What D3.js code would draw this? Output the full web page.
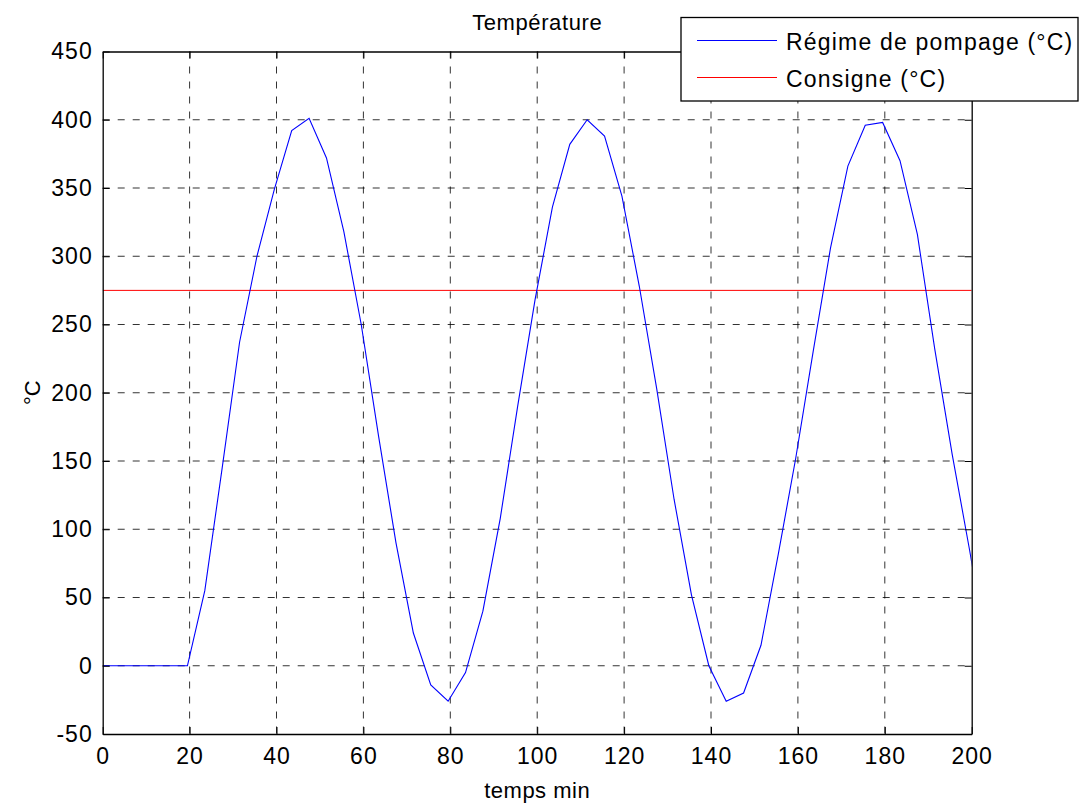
<!DOCTYPE html>
<html>
<head>
<meta charset="utf-8">
<script src="https://cdn.jsdelivr.net/npm/d3@7"></script>
<style>
  body { margin: 0; background: #fff; }
  text { font-family: "Liberation Sans", Arial, sans-serif; fill: #000; }
</style>
</head>
<body>
<svg width="1080" height="805"></svg>
<script>
// temps (min) et température
var temps = [0, 3.5, 7.5, 11.5, 15.5, 19.5, 23.5, 27.5, 31.5, 35.5, 39.5, 43.5, 47.5, 51.5, 55.5,
  59.5, 63.5, 67.5, 71.5, 75.5, 79.5, 83.5, 87.5, 91.5, 95.5, 99.5, 103.5, 107.5, 111.5,
  115.5, 119.5, 123.5, 127.5, 131.5, 135.5, 139.5, 143.5, 147.5, 151.5, 155.5, 159.5,
  163.5, 167.5, 171.5, 175.5, 179.5, 183.5, 187.5, 191.5, 195.5, 199.5, 203.5];
var regime = [0, 0, 0, 0, 0, 0, 55, 145, 237, 300, 349, 392, 401, 372, 318,
  250, 168, 90, 24, -14, -26, -5, 40, 108, 190, 268, 336, 382, 400,
  388, 344, 278, 203, 122, 52, 0, -26, -20, 15, 82, 152,
  230, 306, 366, 396, 398, 370, 316, 232, 155, 85, 10];
var consigne = 275;

var xTicks = [0, 20, 40, 60, 80, 100, 120, 140, 160, 180, 200];
var yTicks = [-50, 0, 50, 100, 150, 200, 250, 300, 350, 400, 450];

var svg = d3.select("svg");
// bords de la zone de tracé
var pl = 102.7, pr = 971.7, pt = 51.5, pb = 734;

var x = d3.scaleLinear().domain([0, 200]).range([pl, pr]);
var y = d3.scaleLinear().domain([-50, 450]).range([pb, pt]);
var fmt = d => String(d); // tiret simple comme matlab

svg.append("rect").attr("width", 1080).attr("height", 805).attr("fill", "#fff");

svg.append("defs").append("clipPath").attr("id", "plot")
  .append("rect").attr("x", pl).attr("y", pt)
  .attr("width", pr - pl).attr("height", pb - pt);

// grille en pointillés
var grid = svg.append("g").attr("stroke", "#000").attr("stroke-opacity", 0.8)
  .attr("stroke-width", 1).attr("stroke-dasharray", "7,8");
grid.selectAll(".gx").data(xTicks.slice(1, -1)).enter().append("line")
  .attr("x1", d => x(d)).attr("x2", d => x(d))
  .attr("y1", pt).attr("y2", pb);
grid.selectAll(".gy").data(yTicks.slice(1, -1)).enter().append("line")
  .attr("x1", pl).attr("x2", pr)
  .attr("y1", d => y(d)).attr("y2", d => y(d));

// courbes
var plot = svg.append("g").attr("clip-path", "url(#plot)");
plot.append("line")
  .attr("x1", x(0)).attr("x2", x(200))
  .attr("y1", y(consigne)).attr("y2", y(consigne))
  .attr("stroke", "#ff0000").attr("stroke-width", 1);

var line = d3.line().x((d, i) => x(temps[i])).y(d => y(d));
plot.append("path").datum(regime)
  .attr("d", line)
  .attr("fill", "none").attr("stroke", "#0000ff").attr("stroke-width", 1.1);

// cadre et graduations (vers l'intérieur)
var axisG = svg.append("g");
axisG.append("g").attr("transform", "translate(0," + pb + ")")
  .call(d3.axisBottom(x).tickValues(xTicks).tickFormat(fmt).tickSizeInner(-7).tickSizeOuter(0).tickPadding(14));
axisG.append("g").attr("transform", "translate(" + pl + ",0)")
  .call(d3.axisLeft(y).tickValues(yTicks).tickFormat(fmt).tickSizeInner(-7).tickSizeOuter(0).tickPadding(10));
axisG.append("g").attr("transform", "translate(0," + pt + ")")
  .call(d3.axisTop(x).tickValues(xTicks).tickSizeInner(-7).tickSizeOuter(0).tickFormat(""));
axisG.append("g").attr("transform", "translate(" + pr + ",0)")
  .call(d3.axisRight(y).tickValues(yTicks).tickSizeInner(-7).tickSizeOuter(0).tickFormat(""));
axisG.selectAll(".domain").attr("stroke", "#000").attr("stroke-width", 1.3);
axisG.selectAll(".tick line").attr("stroke", "#000");
axisG.selectAll(".tick text")
  .style("font-size", "23px").style("letter-spacing", "1px")
  .style("font-family", "Liberation Sans, Arial, sans-serif").attr("fill", "#000");

// titres
svg.append("text").attr("x", (pl + pr) / 2).attr("y", 30)
  .attr("text-anchor", "middle").style("font-size", "22px").style("letter-spacing", "0.6px")
  .text("Température");
svg.append("text").attr("x", (pl + pr) / 2).attr("y", 798)
  .attr("text-anchor", "middle").style("font-size", "22px").style("letter-spacing", "0.5px")
  .text("temps min");
svg.append("text")
  .attr("transform", "translate(40," + ((pt + pb) / 2) + ") rotate(-90)")
  .attr("text-anchor", "middle").style("font-size", "22px")
  .text("°C");

// légende
var series = [
  { name: "Régime de pompage (°C)", color: "#0000ff" },
  { name: "Consigne (°C)", color: "#ff0000" }
];
var leg = svg.append("g");
leg.append("rect").attr("x", 681).attr("y", 17.5).attr("width", 397).attr("height", 83.5)
  .attr("fill", "#fff").attr("stroke", "#000").attr("stroke-width", 1.3);
var item = leg.selectAll(".item").data(series).enter().append("g")
  .attr("transform", (d, i) => "translate(0," + (40.5 + i * 37) + ")");
item.append("line").attr("x1", 697).attr("x2", 777)
  .attr("stroke", d => d.color).attr("stroke-width", 1);
item.append("text").attr("x", 786).attr("y", 9)
  .style("font-size", "23px").style("letter-spacing", "1.2px")
  .text(d => d.name);
</script>
</body>
</html>
